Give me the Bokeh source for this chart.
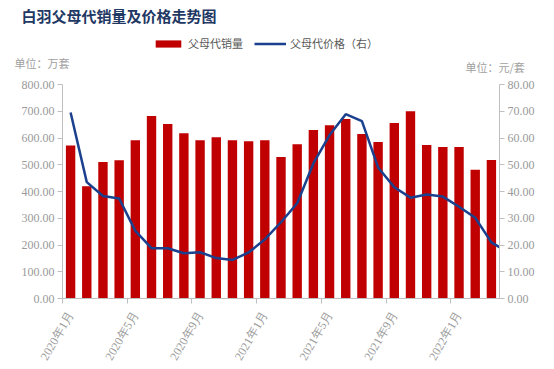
import math
from bokeh.plotting import figure
from bokeh.layouts import column
from bokeh.models import (Range1d, LinearAxis, FixedTicker, SingleIntervalTicker,
                          PrintfTickFormatter, Legend, LegendItem, Label)
from bokeh.embed import file_html
from bokeh.resources import INLINE

# ---- data ----
months = ["2020年1月", "2020年2月", "2020年3月", "2020年4月", "2020年5月", "2020年6月",
          "2020年7月", "2020年8月", "2020年9月", "2020年10月", "2020年11月", "2020年12月",
          "2021年1月", "2021年2月", "2021年3月", "2021年4月", "2021年5月", "2021年6月",
          "2021年7月", "2021年8月", "2021年9月", "2021年10月", "2021年11月", "2021年12月",
          "2022年1月", "2022年2月", "2022年3月", "2022年4月"]
sales = [572, 420, 510, 517, 592, 682, 652, 618, 592, 603, 592, 588, 592, 529,
         577, 630, 648, 671, 615, 585, 656, 700, 574, 566, 566, 481, 518]
price = [69.5, 43.5, 38.3, 37.4, 25.3, 18.8, 18.8, 16.9, 17.3, 15.1, 14.4, 17.2,
         22.1, 28.5, 35.6, 50.5, 61.1, 68.9, 66.3, 49.0, 41.6, 37.7, 38.9, 38.1,
         34.3, 30.2, 21.0, 17.4]
title_text = "白羽父母代销量及价格走势图"
sales_name = "父母代销量"
price_name = "父母代价格（右）"
unit_left = "单位：万套"
unit_right = "单位：元/套"

n = len(sales)
xs_bar = list(range(n))
xs_line = list(range(len(price)))

AX = "#BFBFBF"
TICK_TXT = "#9A9A9A"
SERIF = "Liberation Serif"
CJK = "Noto Sans CJK SC"
BAR_COLOR = "#C00000"
LINE_COLOR = "#1B408E"

W, H_HEAD, H_MAIN = 554, 76, 293

# ---------------- header (title, legend, units) ----------------
hd = figure(width=W, height=H_HEAD, output_backend="svg", toolbar_location=None,
            x_range=Range1d(0, W), y_range=Range1d(H_HEAD, 0),
            min_border=0, min_border_left=0, min_border_right=0,
            min_border_top=0, min_border_bottom=0, outline_line_color=None,
            frame_align=False)
hd.axis.visible = False
hd.grid.visible = False

# legend carriers (hidden in the header, styled like the chart's series)
proxy_bar = hd.vbar(x=xs_bar[:1], top=sales[:1], width=0.58, fill_color=BAR_COLOR,
                    line_color=None, visible=False)
proxy_line = hd.line(x=xs_line[:2], y=price[:2], line_color=LINE_COLOR,
                     line_width=2.5, visible=False)

hd.add_layout(Label(x=21, y=15, text=title_text, text_font=CJK,
                    text_font_size="15px", text_font_style="bold",
                    text_color="#1F3864", text_baseline="middle"))
hd.add_layout(Label(x=14, y=62, text=unit_left, text_font=CJK,
                    text_font_size="11px", text_color="#A0A0A0",
                    text_baseline="middle"))
hd.add_layout(Label(x=465, y=66, text=unit_right, text_font=CJK,
                    text_font_size="11px", text_color="#A0A0A0",
                    text_baseline="middle"))

legend = Legend(items=[LegendItem(label=sales_name, renderers=[proxy_bar]),
                       LegendItem(label=price_name, renderers=[proxy_line])],
                location=(152, 25), orientation="horizontal",
                glyph_width=32, glyph_height=9, label_standoff=4, spacing=11,
                label_height=12, padding=0, margin=0, border_line_color=None,
                background_fill_alpha=0, label_text_font=CJK,
                label_text_font_size="11px", label_text_color="#595959")
hd.add_layout(legend)

# ---------------- main chart ----------------
p = figure(width=W, height=H_MAIN, output_backend="svg", toolbar_location=None,
           x_range=Range1d(-0.5, n - 0.5), y_range=Range1d(0, 800),
           min_border_left=62, min_border_right=55, min_border_top=8,
           min_border_bottom=70, outline_line_color=None, frame_align=False)
p.xgrid.visible = False
p.ygrid.visible = False
p.extra_y_ranges = {"price": Range1d(0, 80)}

p.vbar(x=xs_bar, top=sales, width=0.58, fill_color=BAR_COLOR, line_color=None)
p.line(x=xs_line, y=price, y_range_name="price", line_color=LINE_COLOR,
       line_width=2.5)

ya = p.yaxis[0]
ya.ticker = SingleIntervalTicker(interval=100)
ya.formatter = PrintfTickFormatter(format="%.2f")

right = LinearAxis(y_range_name="price", ticker=SingleIntervalTicker(interval=10),
                   formatter=PrintfTickFormatter(format="%.2f"))
p.add_layout(right, "right")

for ax in (ya, right):
    ax.axis_line_color = AX
    ax.major_tick_line_color = AX
    ax.major_tick_out = 5
    ax.major_tick_in = 0
    ax.minor_tick_line_color = None
    ax.major_label_text_font = SERIF
    ax.major_label_text_font_size = "12px"
    ax.major_label_text_color = TICK_TXT
    ax.major_label_standoff = 3

xa = p.xaxis[0]
label_idx = list(range(0, n, 4))
xa.ticker = FixedTicker(ticks=label_idx, minor_ticks=[i - 0.5 for i in label_idx])
xa.major_label_overrides = {i: months[i] for i in label_idx}
xa.major_tick_line_color = None
xa.major_tick_out = 0
xa.major_tick_in = 0
xa.minor_tick_line_color = AX
xa.minor_tick_out = 5
xa.minor_tick_in = 0
xa.axis_line_color = AX
xa.major_label_orientation = math.pi / 3
xa.major_label_text_font = SERIF
xa.major_label_text_font_size = "12px"
xa.major_label_text_color = TICK_TXT
xa.major_label_standoff = 9

layout = column(hd, p, spacing=0)
open("out.html", "w").write(file_html(layout, INLINE))
